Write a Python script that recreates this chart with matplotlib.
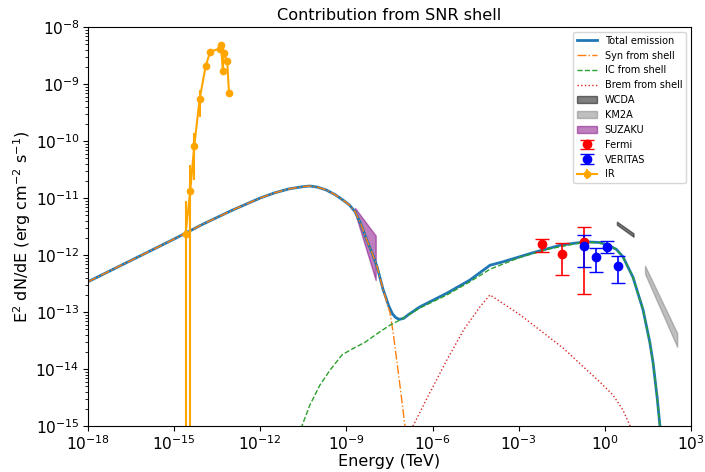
import numpy as np
import matplotlib
matplotlib.use("Agg")
import matplotlib.pyplot as plt
from matplotlib.ticker import FixedLocator, NullLocator

# ---- model curves (log10 E [TeV], log10 E^2 dN/dE) ----
total_logE = [-18, -17, -16, -15, -14, -13, -12, -11.5, -11, -10.5, -10.27, -10.0, -9.7, -9.4,
              -9.11, -8.90, -8.70, -8.50, -8.29, -8.10, -7.93, -7.72, -7.52, -7.40, -7.28,
              -7.15, -7.00, -6.85, -6.44, -5.50, -4.70, -4.0, -3.55, -2.50, -1.56, -1.0,
              -0.63, -0.2, 0.08, 0.40, 0.63, 0.98, 1.33, 1.57, 1.68, 1.82, 1.92]
total_logF = [-12.47, -12.22, -11.97, -11.72, -11.46, -11.22, -11.00, -10.91, -10.84, -10.80,
              -10.79, -10.81, -10.86, -10.94, -11.04, -11.12, -11.24, -11.45, -11.74, -11.97,
              -12.21, -12.61, -12.90, -13.03, -13.10, -13.13, -13.11, -13.05, -12.91, -12.67,
              -12.44, -12.18, -12.12, -11.96, -11.83, -11.79, -11.77, -11.78, -11.82, -11.90,
              -12.03, -12.39, -12.96, -13.54, -13.89, -14.49, -15.0]

syn_logE = [-18, -17, -16, -15, -14, -13, -12, -11.5, -11, -10.5, -10.27, -10.0, -9.7, -9.4,
            -9.11, -8.90, -8.70, -8.50, -8.29, -8.10, -7.93, -7.72, -7.48, -7.37, -7.13,
            -6.96, -6.8]
syn_logF = [-12.47, -12.22, -11.97, -11.72, -11.46, -11.22, -11.00, -10.91, -10.84, -10.80,
            -10.79, -10.81, -10.86, -10.94, -11.04, -11.12, -11.24, -11.45, -11.74, -11.97,
            -12.21, -12.61, -13.02, -13.37, -14.31, -15.0, -15.6]

ic_logE = [-10.7, -10.55, -10.27, -9.92, -9.57, -9.15, -8.80, -8.35, -7.90, -7.48, -7.13,
           -6.44, -5.50, -4.70, -4.0, -3.0, -2.0, -1.0, -0.63, -0.2, 0.08, 0.40, 0.63, 0.98,
           1.33, 1.57, 1.68, 1.82, 1.92]
ic_logF = [-15.3, -15.0, -14.63, -14.28, -14.02, -13.75, -13.65, -13.53, -13.37, -13.23,
           -13.14, -12.93, -12.70, -12.47, -12.25, -12.05, -11.90, -11.80, -11.78, -11.78,
           -11.82, -11.90, -12.03, -12.39, -12.96, -13.54, -13.89, -14.49, -15.0]

brem_logE = [-6.85, -6.68, -6.2, -5.50, -4.90, -4.35, -4.0, -2.95, -1.46, -0.17, 0.29, 0.63, 0.88, 1.0]
brem_logF = [-15.25, -15.0, -14.52, -13.84, -13.30, -12.91, -12.70, -13.05, -13.63, -14.23,
             -14.46, -14.72, -15.0, -15.2]

# ---- bands (log10 E, upper, lower) ----
wcda_logE = [0.42, 1.0]
wcda_hi = [-11.415, -11.62]
wcda_lo = [-11.47, -11.68]

km2a_logE = [1.40, 2.52]
km2a_hi = [-12.19, -13.37]
km2a_lo = [-12.33, -13.61]

suzaku_logE = [-8.70, -7.98]
suzaku_hi = [-11.175, -11.66]
suzaku_lo = [-11.26, -12.44]

# ---- data points ----
fermi_E = [6.5e-3, 3.2e-2, 0.19]
fermi_F = [1.55e-12, 1.05e-12, 1.7e-12]
fermi_lo = [1.12e-12, 4.5e-13, 2.1e-13]
fermi_hi = [1.9e-12, 1.62e-12, 3.1e-12]

veritas_E = [0.19, 0.49, 1.2, 2.9]
veritas_F = [1.45e-12, 9.1e-13, 1.38e-12, 6.5e-13]
veritas_lo = [6.2e-13, 5.0e-13, 1.1e-12, 3.2e-13]
veritas_hi = [2.24e-12, 1.32e-12, 1.78e-12, 9.5e-13]

ir_logE = [-14.60, -14.44, -14.30, -14.11, -13.90, -13.74, -13.40, -13.37, -13.30, -13.28,
           -13.15, -13.09]
ir_logF = [-11.63, -10.88, -10.09, -9.26, -8.68, -8.43, -8.38, -8.32, -8.78, -8.45, -8.60, -9.16]
ir_logLo = [-16.5, -16.5, -10.68, -9.58, -8.70, -8.45, -8.40, -8.34, -8.80, -8.47, -8.62, -9.18]
ir_logHi = [-11.05, -10.42, -9.86, -9.11, -8.66, -8.41, -8.36, -8.30, -8.76, -8.43, -8.58, -9.14]

xticks_exp = [-18, -15, -12, -9, -6, -3, 0, 3]


def p(a):
    return 10.0 ** np.asarray(a, dtype=float)


fig = plt.figure(figsize=(7.05, 4.72), dpi=100)
ax = fig.add_axes([0.1248, 0.0975, 0.8553, 0.8453])

ax.plot(p(total_logE), p(total_logF), color='#1f77b4', lw=2.0, label='Total emission')
ax.plot(p(syn_logE), p(syn_logF), color='#ff7f0e', lw=1.0, ls='-.', label='Syn from shell')
ax.plot(p(ic_logE), p(ic_logF), color='#2ca02c', lw=1.0, ls='--', label='IC from shell')
ax.plot(p(brem_logE), p(brem_logF), color='#d62728', lw=1.0, ls=':', label='Brem from shell')

ax.fill_between(p(wcda_logE), p(wcda_lo), p(wcda_hi), color='black', alpha=0.5, label='WCDA')
ax.fill_between(p(km2a_logE), p(km2a_lo), p(km2a_hi), color='gray', alpha=0.5, label='KM2A')
ax.fill_between(p(suzaku_logE), p(suzaku_lo), p(suzaku_hi), color='purple', alpha=0.5, label='SUZAKU')

fF = np.array(fermi_F)
ax.errorbar(fermi_E, fF, yerr=[fF - np.array(fermi_lo), np.array(fermi_hi) - fF],
            fmt='o', color='red', ms=6, capsize=5, lw=1.2, label='Fermi')
vF = np.array(veritas_F)
ax.errorbar(veritas_E, vF, yerr=[vF - np.array(veritas_lo), np.array(veritas_hi) - vF],
            fmt='o', color='blue', ms=6, capsize=5, lw=1.2, label='VERITAS')
iF = p(ir_logF)
ax.errorbar(p(ir_logE), iF, yerr=[iF - p(ir_logLo), p(ir_logHi) - iF],
            fmt='-o', color='orange', ms=4.5, lw=1.5, label='IR')

ax.set_xscale('log')
ax.set_yscale('log')
ax.set_xlim(1e-18, 1e3)
ax.set_ylim(1e-15, 1e-8)
ax.xaxis.set_major_locator(FixedLocator(p(xticks_exp)))
ax.xaxis.set_minor_locator(NullLocator())
ax.tick_params(axis='both', which='major', labelsize=11.2, pad=2.5)

ax.set_xlabel('Energy (TeV)', fontsize=11.5, labelpad=1)
ax.set_ylabel(r'E$^2$ dN/dE (erg cm$^{-2}$ s$^{-1}$)', fontsize=11.5, labelpad=2)
ax.set_title('Contribution from SNR shell', fontsize=11.6, pad=5)
ax.legend(loc='upper right', fontsize=7)

fig.savefig('out.png', dpi=100)
